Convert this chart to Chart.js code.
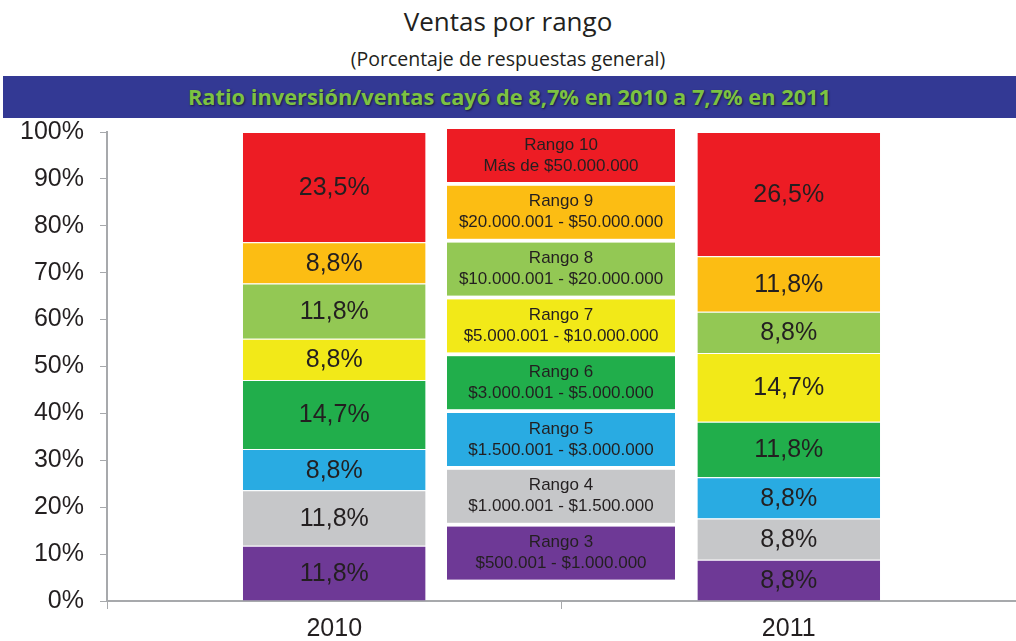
<!DOCTYPE html>
<html>
<head>
<meta charset="utf-8">
<script src="https://cdn.jsdelivr.net/npm/chart.js@4.4.0/dist/chart.umd.min.js"></script>
<style>
  html, body { margin: 0; padding: 0; background: #fff; }
  #wrap { position: relative; width: 1016px; height: 641px; overflow: hidden; }
  #titulo { position: absolute; top: 3px; left: 0; width: 1016px; text-align: center;
            font-family: "Open Sans", sans-serif; font-size: 26px; color: #231f20; }
  #subtitulo { position: absolute; top: 45px; left: 0; width: 1016px; text-align: center;
               font-family: "Open Sans", sans-serif; font-size: 19.5px; color: #231f20; }
  #banda { position: absolute; top: 76px; left: 3px; width: 1013px; height: 42px; background: #333994;
           text-align: center; line-height: 42px; font-family: "Open Sans", sans-serif; font-weight: bold;
           font-size: 21.8px; color: #7cc242; text-shadow: 1px 1px 2px #1a1a40; }
  #grafico { position: absolute; top: 101px; left: 0; }
</style>
</head>
<body>
<div id="wrap">
  <div id="titulo">Ventas por rango</div>
  <div id="subtitulo">(Porcentaje de respuestas general)</div>
  <div id="banda">Ratio inversión/ventas cayó de 8,7% en 2010 a 7,7% en 2011</div>
  <canvas id="grafico" width="1016" height="552"></canvas>
</div>
<script>
// --- datos ---
const anios = ['2010', '2011'];
const rangos = ['Rango 3', 'Rango 4', 'Rango 5', 'Rango 6', 'Rango 7', 'Rango 8', 'Rango 9', 'Rango 10'];
const tramos = ['$500.001 - $1.000.000', '$1.000.001 - $1.500.000', '$1.500.001 - $3.000.000',
                '$3.000.001 - $5.000.000', '$5.000.001 - $10.000.000', '$10.000.001 - $20.000.000',
                '$20.000.001 - $50.000.000', 'Más de $50.000.000'];
const valores2010 = [11.8, 11.8, 8.8, 14.7, 8.8, 11.8, 8.8, 23.5];
const valores2011 = [8.8, 8.8, 8.8, 11.8, 14.7, 8.8, 11.8, 26.5];
const colores = ['#6e3996', '#c6c7c9', '#29abe2', '#21ae4b', '#f2e918', '#93c854', '#fcbd13', '#ed1c24'];
const marcasY = [0, 10, 20, 30, 40, 50, 60, 70, 80, 90, 100];

const TEXTO = '#231f20';
const fuente = '"Liberation Sans", Arial, sans-serif';

// etiquetas con el valor dentro de cada segmento
const etiquetasValor = {
    id: 'etiquetasValor',
    afterDatasetsDraw(chart) {
        const ctx = chart.ctx;
        ctx.save();
        ctx.font = '25px ' + fuente;
        ctx.fillStyle = TEXTO;
        ctx.textAlign = 'center';
        ctx.textBaseline = 'middle';
        chart.data.datasets.forEach((ds, i) => {
            chart.getDatasetMeta(i).data.forEach((bar, j) => {
                const y = (bar.y + bar.base) / 2;
                ctx.fillText(ds.data[j].toFixed(1).replace('.', ',') + '%', bar.x, y + 1);
            });
        });
        ctx.restore();
    }
};

// leyenda en cajas de color entre las dos barras
const leyendaCajas = {
    id: 'leyendaCajas',
    afterDraw(chart) {
        const ctx = chart.ctx;
        const area = chart.chartArea;
        const x0 = 447, ancho = 228, alto = 53, paso = 56.8;
        ctx.save();
        ctx.textAlign = 'center';
        ctx.textBaseline = 'middle';
        const n = chart.data.datasets.length;
        for (let k = 0; k < n; k++) {
            const i = n - 1 - k;
            const ds = chart.data.datasets[i];
            const y0 = area.top - 3 + k * paso;
            ctx.fillStyle = ds.backgroundColor;
            ctx.fillRect(x0, y0, ancho, alto);
            ctx.fillStyle = TEXTO;
            ctx.font = '17px ' + fuente;
            ctx.fillText(ds.label, x0 + ancho / 2, y0 + 16);
            ctx.fillText(tramos[i], x0 + ancho / 2, y0 + 37);
        }
        ctx.restore();
    }
};

const datasets = rangos.map((r, i) => ({
    label: r,
    data: [valores2010[i], valores2011[i]],
    backgroundColor: colores[i],
    borderColor: '#ffffff',
    borderWidth: { top: 1, bottom: 0, left: 0, right: 0 },
    borderSkipped: false,
    categoryPercentage: 1,
    barPercentage: 0.402
}));

new Chart(document.getElementById('grafico'), {
    type: 'bar',
    data: { labels: anios, datasets: datasets },
    options: {
        responsive: false,
        animation: false,
        layout: { padding: { top: 0, right: 0, left: 0, bottom: 4 } },
        plugins: { legend: { display: false }, tooltip: { enabled: false } },
        scales: {
            x: {
                stacked: true,
                grid: { display: true, drawOnChartArea: false, offset: true, tickLength: 8, color: '#a7a9ac', lineWidth: 1 },
                border: { color: '#a7a9ac', width: 2 },
                ticks: { color: TEXTO, font: { family: fuente, size: 25 }, padding: 5 }
            },
            y: {
                stacked: true,
                min: 0,
                max: 100,
                afterBuildTicks(scale) { scale.ticks = marcasY.map(v => ({ value: v })); },
                afterFit(scale) { scale.width = 107; },
                grid: { display: true, drawOnChartArea: false, tickLength: 7, color: '#a7a9ac' },
                border: { color: '#a7a9ac', width: 2 },
                ticks: { color: TEXTO, font: { family: fuente, size: 25 }, padding: 16,
                         callback: v => v + '%' }
            }
        }
    },
    plugins: [etiquetasValor, leyendaCajas]
});
</script>
</body>
</html>
